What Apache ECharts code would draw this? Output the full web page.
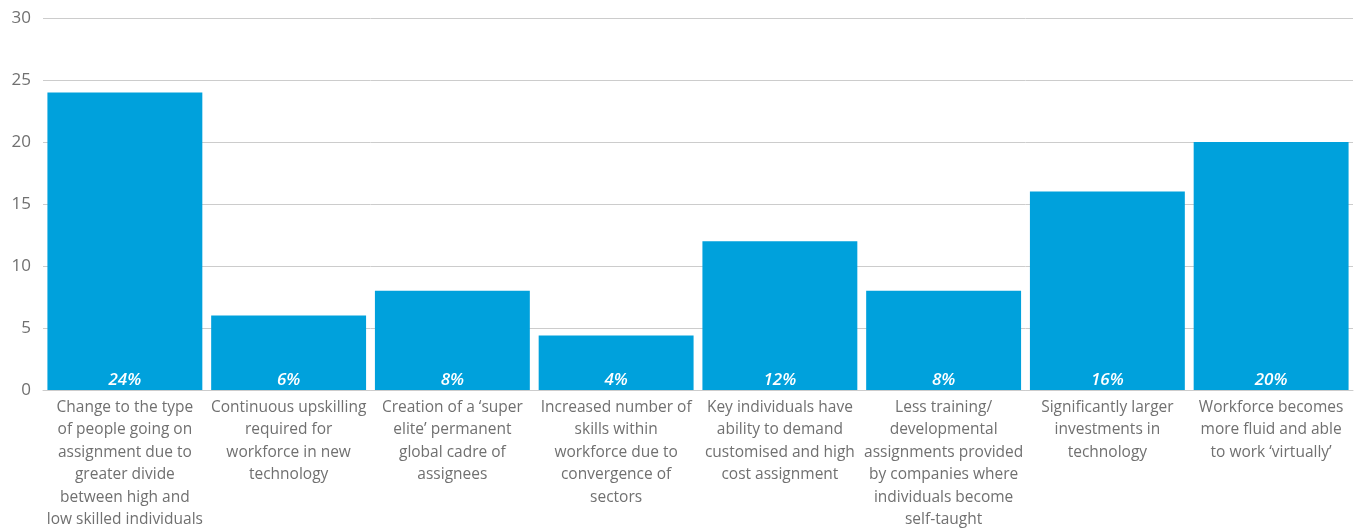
<!DOCTYPE html>
<html><head><meta charset="utf-8">
<script src="https://cdn.jsdelivr.net/npm/echarts@6/dist/echarts.min.js"></script>
<style>html,body{margin:0;padding:0;background:#fff}#c{width:1359px;height:528px}</style>
</head><body><div id="c"></div>
<script>
const categories = [
  "Change to the type\nof people going on\nassignment due to\ngreater divide\nbetween high and\nlow skilled individuals",
  "Continuous upskilling\nrequired for\nworkforce in new\ntechnology",
  "Creation of a \u2018super\nelite\u2019 permanent\nglobal cadre of\nassignees",
  "Increased number of\nskills within\nworkforce due to\nconvergence of\nsectors",
  "Key individuals have\nability to demand\ncustomised and high\ncost assignment",
  "Less training/\ndevelopmental\nassignments provided\nby companies where\nindividuals become\nself-taught",
  "Significantly larger\ninvestments in\ntechnology",
  "Workforce becomes\nmore fluid and able\nto work \u2018virtually\u2019"
];
const values = [24, 6, 8, 4.4, 12, 8, 16, 20];
const valueLabels = ["24%", "6%", "8%", "4%", "12%", "8%", "16%", "20%"];

const chart = echarts.init(document.getElementById('c'));
chart.setOption({
  animation: false,
  textStyle: { fontFamily: "Open Sans" },
  grid: { left: 43, right: 6, top: 18, bottom: 138, containLabel: false, outerBoundsMode: 'none' },
  xAxis: {
    type: 'category',
    data: categories,
    axisLine: { show: true, lineStyle: { color: '#cccccc', width: 1 } },
    axisTick: { show: false },
    axisLabel: { interval: 0, color: '#707070', fontSize: 15.5, lineHeight: 22.5, margin: 6, fontFamily: "Open Sans" }
  },
  yAxis: {
    type: 'value', min: 0, max: 30, interval: 5,
    axisLine: { show: false }, axisTick: { show: false },
    axisLabel: { color: '#707070', fontSize: 17, margin: 12, fontFamily: "Open Sans" },
    splitLine: { lineStyle: { color: '#cccccc', width: 1 } }
  },
  series: [{
    type: 'bar',
    data: values,
    barCategoryGap: '5.4%',
    itemStyle: { color: '#00a1dc' },
    label: {
      show: true, position: 'insideBottom', distance: 1,
      formatter: p => valueLabels[p.dataIndex],
      color: '#ffffff', fontSize: 17, fontStyle: 'italic', fontWeight: 600, fontFamily: "Open Sans"
    }
  }]
});
</script></body></html>
